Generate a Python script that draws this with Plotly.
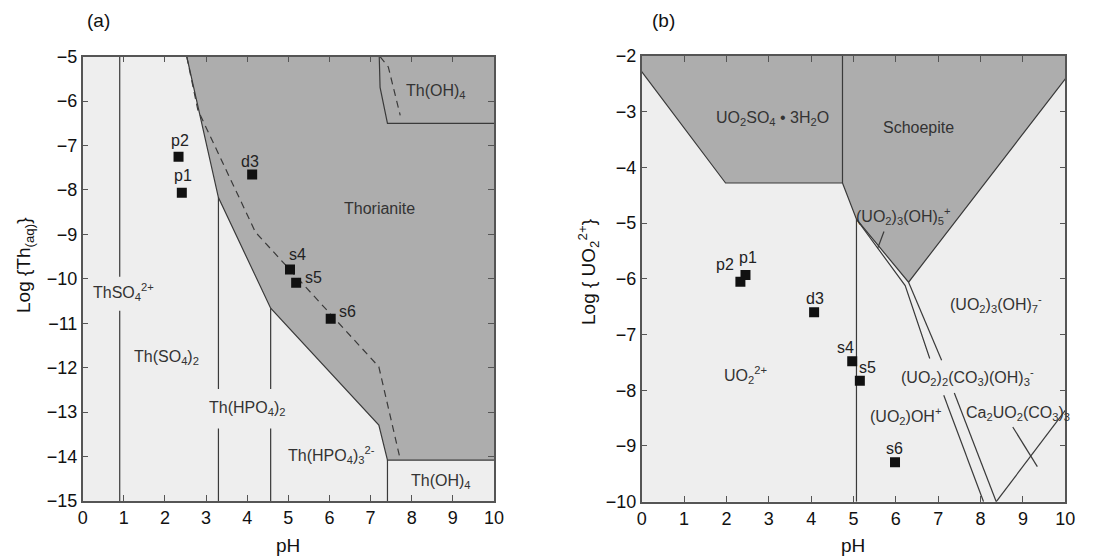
import plotly.graph_objects as go

# ---------------- Panel (a): Th ----------------
a_names = ["p2", "p1", "d3", "s4", "s5", "s6"]
a_ph = [2.33, 2.41, 4.12, 5.04, 5.19, 6.03]
a_log = [-7.25, -8.06, -7.65, -9.79, -10.09, -10.90]
a_lab_ph = [2.37, 2.43, 4.07, 5.23, 5.62, 6.45]
a_lab_log = [-6.88, -7.68, -7.36, -9.46, -9.98, -10.74]

# Thorianite (solid) boundary
a_thor_ph = [2.53, 3.30, 4.57, 7.20, 7.41, 10.0]
a_thor_log = [-5.0, -8.17, -10.66, -13.29, -14.08, -14.08]
# Th(OH)4 (upper) boundary
a_thoh_ph = [7.21, 7.23, 7.41, 10.0]
a_thoh_log = [-5.0, -5.69, -6.5, -6.5]
# dashed boundaries
a_dash1_ph = [2.53, 2.80, 4.20, 7.20, 7.72]
a_dash1_log = [-5.0, -6.2, -8.95, -11.98, -14.06]
a_dash2_ph = [7.23, 7.43, 7.72]
a_dash2_log = [-5.0, -5.23, -6.32]
# vertical boundaries (with gaps for labels)
a_v_ph = [0.9, 0.9, 3.3, 3.3, 4.57, 4.57, 7.41]
a_v_top = [-5.0, -10.72, -8.17, -13.37, -10.66, -13.37, -14.08]
a_v_bot = [-9.95, -15.0, -12.48, -15.0, -12.48, -15.0, -15.0]

a_fields = ["Thorianite", "Th(OH)<sub>4</sub>", "ThSO<sub>4</sub><sup>2+</sup>",
            "Th(SO<sub>4</sub>)<sub>2</sub>", "Th(HPO<sub>4</sub>)<sub>2</sub>",
            "Th(HPO<sub>4</sub>)<sub>3</sub><sup>2-</sup>", "Th(OH)<sub>4</sub>"]
a_field_ph = [7.22, 8.6, 1.0, 2.04, 4.0, 6.05, 8.7]
a_field_log = [-8.41, -5.79, -10.3, -11.77, -12.92, -13.97, -14.56]

# ---------------- Panel (b): U ----------------
b_names = ["p2", "p1", "d3", "s4", "s5", "s6"]
b_ph = [2.33, 2.45, 4.07, 4.97, 5.15, 5.98]
b_log = [-6.05, -5.93, -6.60, -7.48, -7.83, -9.29]
b_lab_ph = [1.97, 2.52, 4.09, 4.82, 5.33, 5.96]
b_lab_log = [-5.74, -5.62, -6.36, -7.24, -7.6, -9.05]

b_uso4_ph = [0.0, 0.0, 1.98, 4.74, 4.74]
b_uso4_log = [-2.0, -2.28, -4.28, -4.28, -2.0]
b_schoe_ph = [4.74, 4.74, 5.07, 6.30, 10.0, 10.0]
b_schoe_log = [-2.0, -4.28, -4.93, -6.06, -2.41, -2.0]
b_band_ph = [5.07, 6.22, 6.80]
b_band_log = [-4.93, -6.12, -7.43]
b_right_ph = [6.30, 7.08]
b_right_log = [-6.06, -7.46]
b_low1_ph = [7.13, 8.07]
b_low1_log = [-8.09, -10.0]
b_low2_ph = [7.38, 8.37]
b_low2_log = [-8.05, -10.0]
b_ca_ph = [8.37, 10.0]
b_ca_log = [-10.0, -8.36]
b_short_ph = [8.76, 9.34]
b_short_log = [-8.66, -9.37]
b_ptr_ph = [5.72, 5.57]
b_ptr_log = [-5.15, -5.45]
b_v_ph = [5.07, 5.07]
b_v_log = [-4.93, -10.0]

b_fields = ["UO<sub>2</sub>SO<sub>4</sub> \u2022 3H<sub>2</sub>O", "Schoepite",
            "(UO<sub>2</sub>)<sub>3</sub>(OH)<sub>5</sub><sup>+</sup>",
            "(UO<sub>2</sub>)<sub>3</sub>(OH)<sub>7</sub><sup>-</sup>",
            "(UO<sub>2</sub>)<sub>2</sub>(CO<sub>3</sub>)(OH)<sub>3</sub><sup>-</sup>",
            "(UO<sub>2</sub>)OH<sup>+</sup>", "UO<sub>2</sub><sup>2+</sup>"]
b_field_ph = [3.08, 6.54, 6.19, 8.36, 7.70, 6.22, 2.44]
b_field_log = [-3.12, -3.28, -4.87, -6.46, -7.76, -8.46, -7.72]
b_ca_label = "Ca<sub>2</sub>UO<sub>2</sub>(CO<sub>3</sub>)<sub>3</sub>"
b_ca_label_ph = 7.62
b_ca_label_log = -8.42

# ---------------- styling ----------------
FONT = "Liberation Sans, Arial, sans-serif"
LIGHT = "#eeeeee"
DARK = "#adadad"
LINE = "#3a3a3a"
W, H = 1110, 559

fig = go.Figure()


def line(x, y, xa, ya, dash="solid", width=1.2, color=LINE):
    fig.add_trace(go.Scatter(x=x, y=y, mode="lines", xaxis=xa, yaxis=ya,
                             line=dict(color=color, width=width, dash=dash),
                             hoverinfo="skip", showlegend=False))


def poly(x, y, xa, ya, color=DARK):
    fig.add_trace(go.Scatter(x=x, y=y, mode="lines", fill="toself", fillcolor=color,
                             line=dict(width=0, color=color), xaxis=xa, yaxis=ya,
                             hoverinfo="skip", showlegend=False))


# Panel (a) fills
poly(a_thor_ph + [10.0], a_thor_log + [-5.0], "x", "y")
line(a_thor_ph, a_thor_log, "x", "y")
line(a_thoh_ph, a_thoh_log, "x", "y")
line(a_dash1_ph, a_dash1_log, "x", "y", dash="7px,5px")
line(a_dash2_ph, a_dash2_log, "x", "y", dash="7px,5px")
vx, vy = [], []
for p, t, b in zip(a_v_ph, a_v_top, a_v_bot):
    vx += [p, p, None]
    vy += [t, b, None]
line(vx, vy, "x", "y")
fig.add_trace(go.Scatter(x=a_ph, y=a_log, mode="markers", xaxis="x", yaxis="y",
                         marker=dict(symbol="square", size=10, color="#111111"),
                         hoverinfo="skip", showlegend=False))

# Panel (b) fills
poly(b_uso4_ph, b_uso4_log, "x2", "y2")
poly(b_schoe_ph, b_schoe_log, "x2", "y2")
line(b_uso4_ph[1:4], b_uso4_log[1:4], "x2", "y2")
line([b_uso4_ph[3], b_uso4_ph[4]], [b_uso4_log[3], b_uso4_log[4]], "x2", "y2")
line(b_schoe_ph[1:5], b_schoe_log[1:5], "x2", "y2")
line(b_band_ph, b_band_log, "x2", "y2")
line(b_right_ph, b_right_log, "x2", "y2")
line(b_low1_ph, b_low1_log, "x2", "y2")
line(b_low2_ph, b_low2_log, "x2", "y2")
line(b_ca_ph, b_ca_log, "x2", "y2")
line(b_short_ph, b_short_log, "x2", "y2")
line(b_ptr_ph, b_ptr_log, "x2", "y2")
line(b_v_ph, b_v_log, "x2", "y2")
fig.add_trace(go.Scatter(x=b_ph, y=b_log, mode="markers", xaxis="x2", yaxis="y2",
                         marker=dict(symbol="square", size=10, color="#111111"),
                         hoverinfo="skip", showlegend=False))

ann = []
for n, x, y in zip(a_names, a_lab_ph, a_lab_log):
    ann.append(dict(x=x, y=y, xref="x", yref="y", text=n, showarrow=False,
                    font=dict(size=16, color="#222")))
for n, x, y in zip(a_fields, a_field_ph, a_field_log):
    ann.append(dict(x=x, y=y, xref="x", yref="y", text=n, showarrow=False,
                    font=dict(size=16, color="#333")))
for n, x, y in zip(b_names, b_lab_ph, b_lab_log):
    ann.append(dict(x=x, y=y, xref="x2", yref="y2", text=n, showarrow=False,
                    font=dict(size=16, color="#222")))
for n, x, y in zip(b_fields, b_field_ph, b_field_log):
    ann.append(dict(x=x, y=y, xref="x2", yref="y2", text=n, showarrow=False,
                    font=dict(size=16, color="#333")))
ann.append(dict(x=b_ca_label_ph, y=b_ca_label_log, xref="x2", yref="y2", text=b_ca_label,
                showarrow=False, xanchor="left", font=dict(size=16, color="#333")))


def paper_text(x, y, text, angle=0):
    return dict(x=x / W, y=1 - y / H, xref="paper", yref="paper", text=text,
                showarrow=False, xanchor="center", yanchor="middle", textangle=angle,
                font=dict(size=19, color="#111"))


ann += [
    paper_text(98, 20, "(a)"),
    paper_text(663, 20, "(b)"),
    paper_text(288, 545, "pH"),
    paper_text(853, 545, "pH"),
    paper_text(25, 265, "Log {Th<sub>(aq)</sub>}", -90),
    paper_text(588, 272, "Log { UO<sub>2</sub><sup>2+</sup>}", -90),
]

axis_common = dict(showline=True, linecolor="#555", linewidth=1.5, mirror="ticks",
                   ticks="inside", ticklen=6, tickcolor="#555", tickwidth=1.2,
                   showgrid=False, zeroline=False, dtick=1,
                   tickfont=dict(size=18, color="#111", family=FONT), automargin=False)

fig.update_layout(
    width=W, height=H, margin=dict(l=0, r=0, t=0, b=0),
    paper_bgcolor="white", plot_bgcolor=LIGHT,
    font=dict(family=FONT),
    xaxis=dict(domain=[82.7 / W, 494 / W], range=[0, 10], anchor="y", **axis_common),
    yaxis=dict(domain=[1 - 501 / H, 1 - 56.7 / H], range=[-15, -5], anchor="x", **axis_common),
    xaxis2=dict(domain=[641.7 / W, 1065.3 / W], range=[0, 10], anchor="y2", **axis_common),
    yaxis2=dict(domain=[1 - 501.7 / H, 1 - 56 / H], range=[-10, -2], anchor="x2", **axis_common),
    annotations=ann,
)

fig.write_html("out.html", config={"displayModeBar": False},
               post_script="document.body.style.margin='0px';document.body.style.overflow='hidden';")
